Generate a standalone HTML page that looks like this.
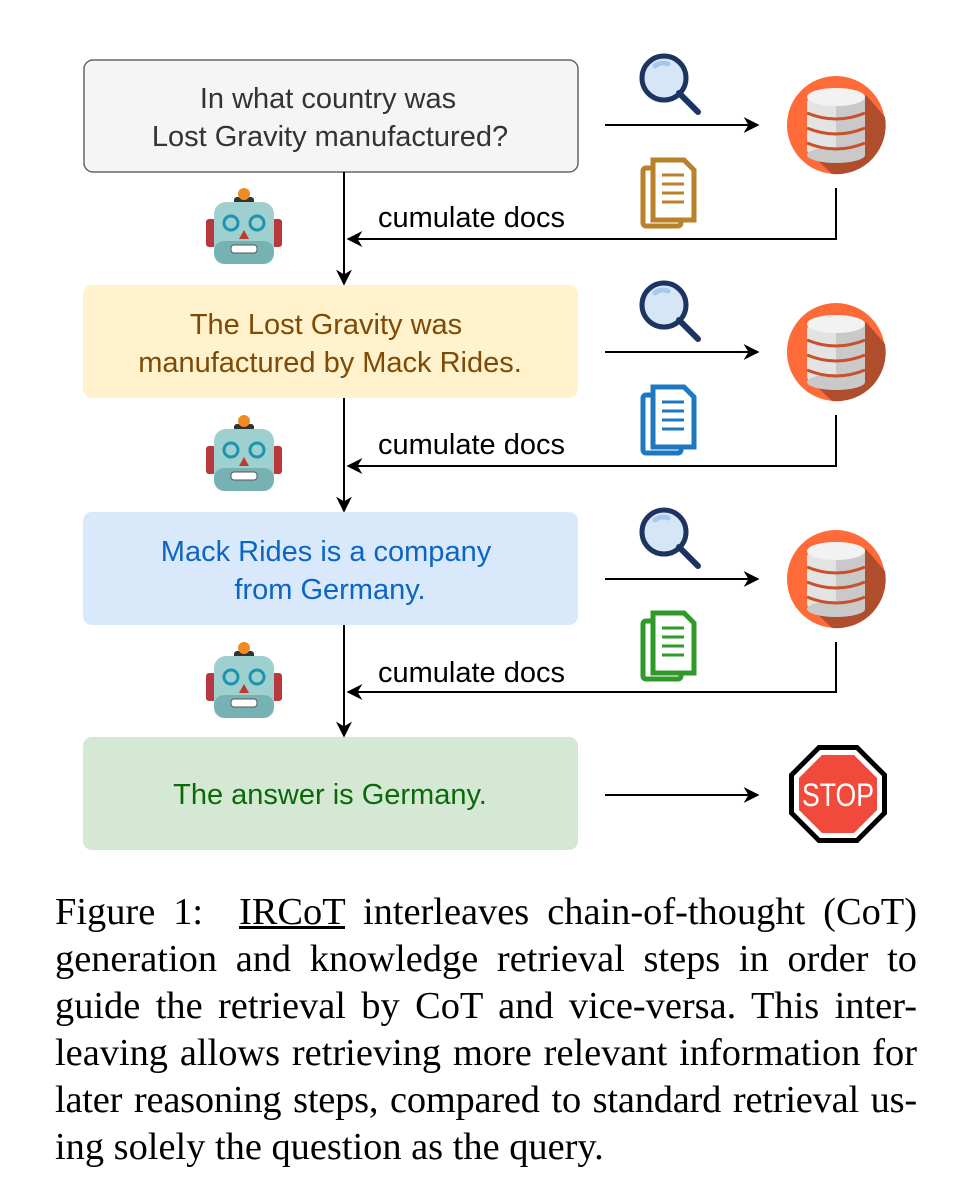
<!DOCTYPE html>
<html><head><meta charset="utf-8"><style>
body{margin:0;background:#fff;width:974px;height:1184px;position:relative;overflow:hidden}
svg{position:absolute;left:0;top:0}
.cap{position:absolute;left:55px;width:862px;font-family:"Liberation Serif",serif;font-size:38.4px;color:#000}
.cap div{height:47px;line-height:47px;text-align:justify;text-align-last:justify;white-space:nowrap}
.cap div.last{text-align-last:left}
</style></head><body>
<svg width="974" height="880" viewBox="0 0 974 880" font-family="Liberation Sans, sans-serif">
<defs>
<marker id="ab" viewBox="0 0 10 10" refX="9" refY="5" markerWidth="16" markerHeight="16" markerUnits="userSpaceOnUse" orient="auto"><path d="M0,0 L10,5 L0,10 L3,5z" fill="#000"/></marker>
<g id="mag"><circle cx="0" cy="0" r="22" fill="#d6e6f7" stroke="#1d3461" stroke-width="5"/><path d="M-9,-12 A13,13 0 0 1 4,-14" stroke="#a7c8ee" stroke-width="5" fill="none" stroke-linecap="round"/><line x1="15" y1="15" x2="34" y2="34" stroke="#1d3461" stroke-width="6" stroke-linecap="round"/></g>
<g id="db"><circle cx="0" cy="0" r="49" fill="#fe6b38"/><path d="M30,-30 L49,-8 A49,49 0 0 1 -4,49 L-28,26z" fill="#b04d2c"/><rect x="-29" y="-28" width="58" height="58" rx="6" fill="#e3e3e3"/><rect x="0" y="-28" width="29" height="58" fill="#c9c9c9"/><ellipse cx="0" cy="-28" rx="29" ry="9" fill="#f2f2f2"/><ellipse cx="0" cy="30" rx="29" ry="8" fill="#c9c9c9"/><path d="M-29,-12 Q0,0 29,-12 M-29,3 Q0,15 29,3 M-29,18 Q0,30 29,18" stroke="#c9502a" stroke-width="3" fill="none"/></g>
<g id="robot"><rect x="-38" y="-12" width="10" height="28" rx="3" fill="#b8383d"/><rect x="28" y="-12" width="10" height="28" rx="3" fill="#b8383d"/><rect x="-10" y="-34" width="20" height="8" rx="3" fill="#333"/><circle cx="0" cy="-37" r="6" fill="#f08a24"/><rect x="-30" y="-29" width="60" height="62" rx="12" fill="#9fd0d0"/><rect x="-30" y="10" width="60" height="23" rx="10" fill="#5c9ea0" opacity=".6"/><circle cx="-13" cy="-8" r="7" fill="none" stroke="#1d94ad" stroke-width="3"/><circle cx="13" cy="-8" r="7" fill="none" stroke="#1d94ad" stroke-width="3"/><path d="M-5,8 L0,-1 L5,8z" fill="#c0392b"/><rect x="-13" y="14" width="26" height="8" rx="3" fill="#fff" stroke="#555" stroke-width="1"/></g>
</defs>
<rect x="84" y="60" width="494" height="112" rx="9" fill="#f5f5f5" stroke="#666" stroke-width="1.5"/>
<text x="328" y="108" text-anchor="middle" font-size="29" fill="#333">In what country was</text>
<text x="330" y="146" text-anchor="middle" font-size="29" fill="#333">Lost Gravity manufactured?</text>
<rect x="83" y="285" width="495" height="113" rx="9" fill="#fff2cc"/>
<text x="326" y="334" text-anchor="middle" font-size="29" fill="#7f4a05">The Lost Gravity was</text>
<text x="330" y="372" text-anchor="middle" font-size="29" fill="#7f4a05">manufactured by Mack Rides.</text>
<rect x="83" y="512" width="495" height="113" rx="9" fill="#dae8fc"/>
<text x="326" y="561" text-anchor="middle" font-size="29" fill="#0a66c2">Mack Rides is a company</text>
<text x="330" y="599" text-anchor="middle" font-size="29" fill="#0a66c2">from Germany.</text>
<rect x="83" y="737" width="495" height="113" rx="9" fill="#d5e8d4"/>
<text x="330" y="804" text-anchor="middle" font-size="29" fill="#0a6a0a">The answer is Germany.</text>
<g stroke="#000" stroke-width="2" fill="none">
<line x1="344" y1="172" x2="344" y2="284" marker-end="url(#ab)"/>
<line x1="344" y1="398" x2="344" y2="511" marker-end="url(#ab)"/>
<line x1="344" y1="625" x2="344" y2="736" marker-end="url(#ab)"/>
<line x1="605" y1="125" x2="758" y2="125" marker-end="url(#ab)"/>
<line x1="605" y1="352" x2="758" y2="352" marker-end="url(#ab)"/>
<line x1="605" y1="579" x2="758" y2="579" marker-end="url(#ab)"/>
<line x1="605" y1="795" x2="758" y2="795" marker-end="url(#ab)"/>
<polyline points="836,188 836,239 348,239" marker-end="url(#ab)"/>
<polyline points="836,415 836,466 348,466" marker-end="url(#ab)"/>
<polyline points="836,642 836,692 348,692" marker-end="url(#ab)"/>
</g>
<text x="378" y="227" font-size="29">cumulate docs</text>
<text x="378" y="454" font-size="29">cumulate docs</text>
<text x="378" y="682" font-size="29">cumulate docs</text>
<use href="#mag" x="664" y="78"/><use href="#mag" x="664" y="305"/><use href="#mag" x="664" y="532"/>
<use href="#db" x="836" y="125"/><use href="#db" x="836" y="352"/><use href="#db" x="836" y="579"/>
<use href="#robot" x="244" y="231"/><use href="#robot" x="244" y="458"/><use href="#robot" x="244" y="685"/>
<g fill="#fff" stroke-width="5">
<g stroke="#b8812a"><rect x="643" y="168" width="38" height="58" rx="3"/><path d="M653,160 h31 l10,10 v50 h-41z"/><path d="M662,175h22M662,184h22M662,193h22M662,202h22" stroke-width="3"/></g>
<g stroke="#1e78c0"><rect x="643" y="395" width="38" height="58" rx="3"/><path d="M653,387 h31 l10,10 v50 h-41z"/><path d="M662,402h22M662,411h22M662,420h22M662,429h22" stroke-width="3"/></g>
<g stroke="#2f9a2a"><rect x="643" y="621" width="38" height="58" rx="3"/><path d="M653,613 h31 l10,10 v50 h-41z"/><path d="M662,628h22M662,637h22M662,646h22M662,655h22" stroke-width="3"/></g>
</g>
<polygon points="818,745 858,745 887,774 887,814 858,843 818,843 789,814 789,774" fill="#000"/>
<polygon points="820,750 856,750 882,776 882,812 856,838 820,838 794,812 794,776" fill="#fff"/>
<polygon points="822,755 854,755 877,778 877,810 854,833 822,833 799,810 799,778" fill="#f14a3c"/>
<text x="838" y="806" text-anchor="middle" font-size="32" fill="#fff" textLength="72" lengthAdjust="spacingAndGlyphs">STOP</text>
</svg>
<div class="cap" style="top:889px">
<div>Figure 1: &nbsp;<span style="text-decoration:underline">IRCoT</span> interleaves chain-of-thought (CoT)</div>
<div>generation and knowledge retrieval steps in order to</div>
<div>guide the retrieval by CoT and vice-versa. This inter-</div>
<div>leaving allows retrieving more relevant information for</div>
<div style="letter-spacing:-0.2px">later reasoning steps, compared to standard retrieval us-</div>
<div class="last">ing solely the question as the query.</div>
</div>
</body></html>
